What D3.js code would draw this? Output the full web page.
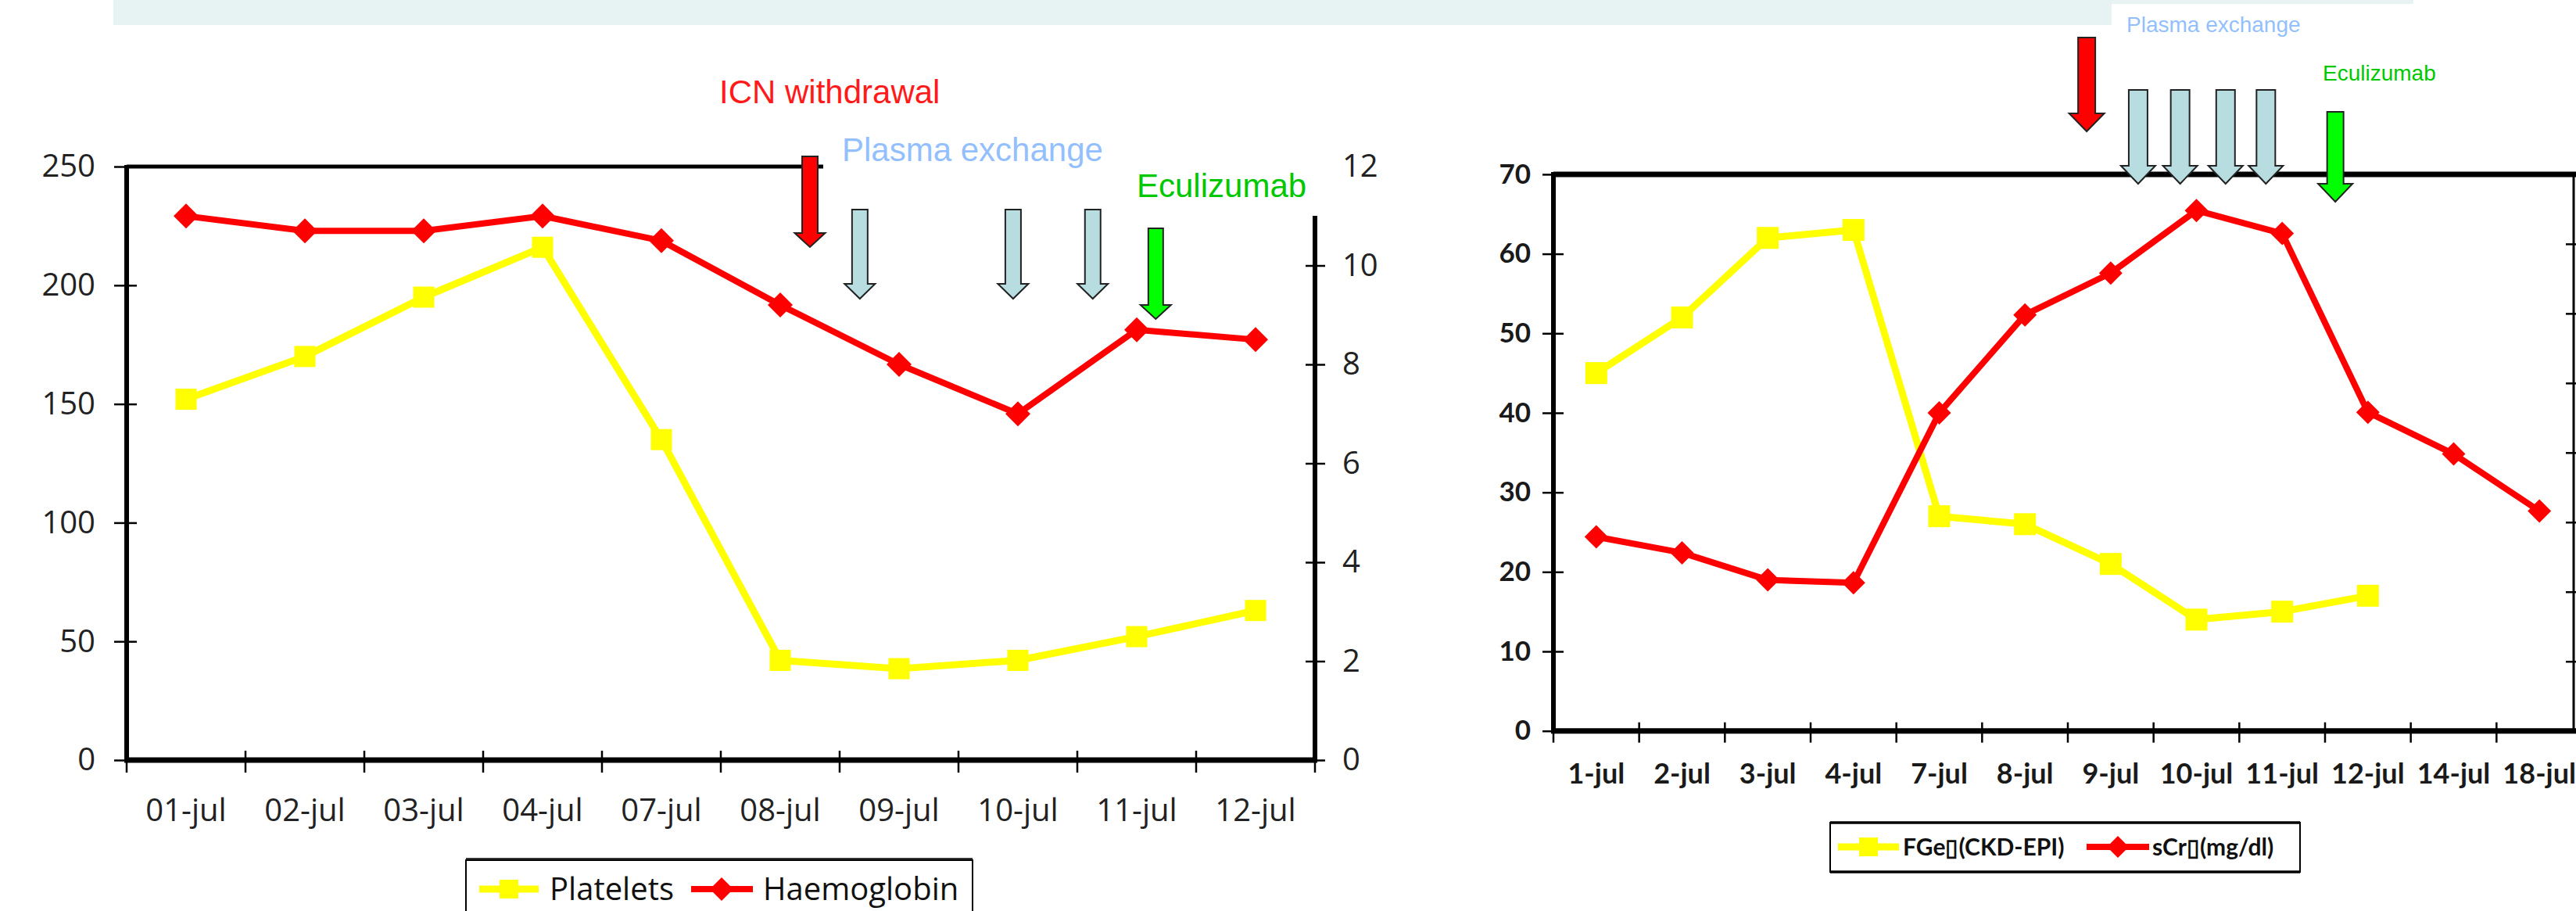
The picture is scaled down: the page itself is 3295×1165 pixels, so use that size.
<!DOCTYPE html>
<html><head><meta charset="utf-8">
<script src="https://cdnjs.cloudflare.com/ajax/libs/d3/7.8.5/d3.min.js"></script>
<style>body{margin:0;background:#fff}svg{display:block}</style>
</head><body>
<svg id="c" width="3295" height="1165"></svg>
<script>
// ---------- DATA ----------
const leftCategories = ["01-jul","02-jul","03-jul","04-jul","07-jul","08-jul","09-jul","10-jul","11-jul","12-jul"];
const platelets = [152,170,195,216,135,42,38.5,42,52,63];
const haemoglobin = [11.0,10.7,10.7,11.0,10.5,9.2,8.0,7.0,8.7,8.5];
const leftTicks = [0,50,100,150,200,250];
const leftRightTicks = [0,2,4,6,8,10,12];

const rightCategories = ["1-jul","2-jul","3-jul","4-jul","7-jul","8-jul","9-jul","10-jul","11-jul","12-jul","14-jul","18-jul"];
const egfr = [45,52,62,63,27,26,21,14,15,17,null,null];
const scr = [2.79,2.56,2.17,2.13,4.57,5.98,6.58,7.48,7.15,4.58,3.98,3.16];
const rightTicks = [0,10,20,30,40,50,60,70];
const rightSecondaryTicks = [0,1,2,3,4,5,6,7,8];

const leftLegend = ["Platelets","Haemoglobin"];
const rightLegend = ["FGe\u25AF(CKD-EPI)","sCr\u25AF(mg/dl)"];

// ---------- HELPERS ----------
const svg = d3.select("#c");
const YEL = "#ffff00", RED = "#ff0000";
function arrow(g, cx, top, headY, tip, shaft, head, fill){
  const s = shaft/2, h = head/2;
  const p = d3.path();
  p.moveTo(cx-s, top); p.lineTo(cx+s, top); p.lineTo(cx+s, headY); p.lineTo(cx+h, headY);
  p.lineTo(cx, tip); p.lineTo(cx-h, headY); p.lineTo(cx-s, headY); p.closePath();
  g.append("path").attr("d", p.toString()).attr("fill", fill).attr("stroke", "#222").attr("stroke-width", 2).attr("stroke-linejoin","miter");
}
function diamond(g, x, y, w, fill){
  g.append("path").attr("d", d3.symbol(d3.symbolSquare, (w/Math.SQRT2)*(w/Math.SQRT2))())
   .attr("transform", `translate(${x},${y}) rotate(45)`).attr("fill", fill);
}
function square(g, x, y, w, fill){
  g.append("rect").attr("x", x-w/2).attr("y", y-w/2).attr("width", w).attr("height", w).attr("fill", fill);
}

// ---------- BANNER ----------
svg.append("rect").attr("x",145).attr("y",0).attr("width",3087-145).attr("height",32).attr("fill","#e7f3f3");
svg.append("rect").attr("x",2701).attr("y",5).attr("width",420).attr("height",60).attr("fill","#fff");

// ---------- LEFT CHART ----------
(function(){
  const x0=162, x1=1682, yb=972, yt=213;
  const x = d3.scaleBand().domain(leftCategories).range([x0,x1]);
  const y = d3.scaleLinear().domain([0,250]).range([yb,yt]);
  const y2 = d3.scaleLinear().domain([0,12]).range([yb,yt]);
  const g = svg.append("g");
  const font = "Open Sans";

  g.append("line").attr("x1",x0).attr("x2",x1).attr("y1",yt).attr("y2",yt).attr("stroke","#000").attr("stroke-width",5);
  g.append("line").attr("x1",x1).attr("x2",x1).attr("y1",yt).attr("y2",yb).attr("stroke","#000").attr("stroke-width",6);

  const ax = g.append("g").attr("transform",`translate(${x0},0)`)
    .call(d3.axisLeft(y).tickValues(leftTicks).tickSize(15).tickPadding(25));
  ax.select(".domain").remove();
  ax.selectAll(".tick line").attr("x1",13).attr("x2",-16).attr("stroke","#000").attr("stroke-width",2.5);
  ax.selectAll("text").attr("font-family",font).attr("font-size",40).attr("fill","#222");
  g.append("line").attr("x1",x0).attr("x2",x0).attr("y1",yt-2).attr("y2",yb+3).attr("stroke","#000").attr("stroke-width",6);

  const ax2 = g.append("g").attr("transform",`translate(${x1},0)`)
    .call(d3.axisRight(y2).tickValues(leftRightTicks).tickSize(13).tickPadding(22).tickFormat(""));
  ax2.select(".domain").remove();
  ax2.selectAll(".tick line").attr("x1",-12).attr("x2",13).attr("stroke","#000").attr("stroke-width",2.5);

  const bx = g.append("g").attr("transform",`translate(0,${yb})`)
    .call(d3.axisBottom(x).tickSize(0).tickPadding(50));
  bx.select(".domain").remove();
  bx.selectAll("text").attr("font-family",font).attr("font-size",40).attr("fill","#222");
  const bounds = leftCategories.map(c=>x(c)).concat([x.range()[1]]);
  g.selectAll(null).data(bounds).enter().append("line")
    .attr("x1",d=>d).attr("x2",d=>d).attr("y1",yb-12).attr("y2",yb+16).attr("stroke","#000").attr("stroke-width",2.5);
  g.append("line").attr("x1",x0-3).attr("x2",x1+3).attr("y1",yb).attr("y2",yb).attr("stroke","#000").attr("stroke-width",7);

  g.append("rect").attr("x",1053).attr("y",150).attr("width",660).attr("height",126).attr("fill","#fff");

  const ax2l = g.append("g").attr("transform",`translate(${x1},0)`)
    .call(d3.axisRight(y2).tickValues(leftRightTicks).tickSize(13).tickPadding(22));
  ax2l.select(".domain").remove(); ax2l.selectAll(".tick line").remove();
  ax2l.selectAll("text").attr("font-family",font).attr("font-size",40).attr("fill","#222");

  const cx = c => x(c)+x.bandwidth()/2;
  g.append("path").datum(platelets).attr("fill","none").attr("stroke",YEL).attr("stroke-width",9).attr("stroke-linejoin","round")
    .attr("d", d3.line().x((d,i)=>cx(leftCategories[i])).y(d=>y(d)));
  platelets.forEach((d,i)=>square(g, cx(leftCategories[i]), y(d), 27, YEL));
  g.append("path").datum(haemoglobin).attr("fill","none").attr("stroke",RED).attr("stroke-width",8).attr("stroke-linejoin","round")
    .attr("d", d3.line().x((d,i)=>cx(leftCategories[i])).y(d=>y2(d)));
  haemoglobin.forEach((d,i)=>diamond(g, cx(leftCategories[i]), y2(d), 32, RED));

  const bw = x.bandwidth();
  arrow(g, x("08-jul")+0.75*bw, 200, 298, 316, 20, 39, RED);
  [["08-jul",1.17],["10-jul",0.46],["11-jul",0.13]].forEach(([c,f])=>arrow(g, x(c)+f*bw, 268, 363, 382, 20, 39, "#b7dde0"));
  arrow(g, x("11-jul")+0.66*bw, 292, 390, 408, 19, 39, "#00ff00");
  g.append("text").attr("x",920).attr("y",132).text("ICN withdrawal").attr("font-family","Liberation Sans").attr("font-size",42).attr("fill","#ff1a1a");
  g.append("text").attr("x",1077).attr("y",206).text("Plasma exchange").attr("font-family","Liberation Sans").attr("font-size",42).attr("fill","#93bfff");
  g.append("text").attr("x",1454).attr("y",252).text("Eculizumab").attr("font-family","Liberation Sans").attr("font-size",42).attr("fill","#00c800");

  const lg = g.append("g");
  lg.append("rect").attr("x",596).attr("y",1100).attr("width",648).attr("height",90).attr("fill","#fff").attr("stroke","#000").attr("stroke-width",2);
  lg.append("line").attr("x1",596).attr("x2",1244).attr("y1",1098).attr("y2",1098).attr("stroke","#333").attr("stroke-width",2);
  const ly = 1137;
  lg.append("line").attr("x1",613).attr("x2",689).attr("y1",ly).attr("y2",ly).attr("stroke",YEL).attr("stroke-width",9);
  square(lg, 651, ly, 24, YEL);
  lg.append("text").attr("x",703).attr("y",ly+14).text(leftLegend[0]).attr("font-family",font).attr("font-size",40).attr("fill","#111");
  lg.append("line").attr("x1",884).attr("x2",963).attr("y1",ly).attr("y2",ly).attr("stroke",RED).attr("stroke-width",8);
  diamond(lg, 923, ly, 30, RED);
  lg.append("text").attr("x",976).attr("y",ly+14).text(leftLegend[1]).attr("font-family",font).attr("font-size",40).attr("fill","#111");
})();

// ---------- RIGHT CHART ----------
(function(){
  const x0=1987, x1=3303, yb=934.7, yt=222.9, xr=3292;
  const x = d3.scaleBand().domain(rightCategories).range([x0,x1]);
  const y = d3.scaleLinear().domain([0,70]).range([yb,yt]);
  const y2 = d3.scaleLinear().domain([0,8]).range([yb,yt]);
  const g = svg.append("g");
  const font = "Lato";

  g.append("line").attr("x1",x0).attr("x2",3295).attr("y1",yt).attr("y2",yt).attr("stroke","#000").attr("stroke-width",7);
  g.append("line").attr("x1",xr).attr("x2",xr).attr("y1",yt).attr("y2",yb).attr("stroke","#000").attr("stroke-width",3);

  const ax = g.append("g").attr("transform",`translate(${x0},0)`)
    .call(d3.axisLeft(y).tickValues(rightTicks).tickSize(14).tickPadding(15));
  ax.select(".domain").remove();
  ax.selectAll(".tick line").attr("x1",13).attr("x2",-14).attr("stroke","#000").attr("stroke-width",2.5);
  ax.selectAll("text").attr("font-family",font).attr("font-weight",700).attr("font-size",35).attr("fill","#1a1a1a");
  g.append("line").attr("x1",x0).attr("x2",x0).attr("y1",yt-3).attr("y2",yb+3).attr("stroke","#000").attr("stroke-width",6);

  const ax2 = g.append("g").attr("transform",`translate(${xr},0)`)
    .call(d3.axisRight(y2).tickValues(rightSecondaryTicks).tickSize(0).tickFormat(""));
  ax2.select(".domain").remove();
  ax2.selectAll(".tick line").attr("x1",-10).attr("x2",3).attr("stroke","#000").attr("stroke-width",2.5);

  const bx = g.append("g").attr("transform",`translate(0,${yb})`)
    .call(d3.axisBottom(x).tickSize(0).tickPadding(42));
  bx.select(".domain").remove();
  bx.selectAll("text").attr("font-family",font).attr("font-weight",700).attr("font-size",36).attr("fill","#1a1a1a");
  const bounds = rightCategories.map(c=>x(c));
  g.selectAll(null).data(bounds).enter().append("line")
    .attr("x1",d=>d).attr("x2",d=>d).attr("y1",yb-11).attr("y2",yb+15).attr("stroke","#000").attr("stroke-width",2.5);
  g.append("line").attr("x1",x0-3).attr("x2",3295).attr("y1",yb).attr("y2",yb).attr("stroke","#000").attr("stroke-width",7);

  const cx = c => x(c)+x.bandwidth()/2;
  g.append("path").datum(egfr).attr("fill","none").attr("stroke",YEL).attr("stroke-width",9).attr("stroke-linejoin","round")
    .attr("d", d3.line().defined(d=>d!=null).x((d,i)=>cx(rightCategories[i])).y(d=>y(d)));
  egfr.forEach((d,i)=>{ if(d!=null) square(g, cx(rightCategories[i]), y(d), 28, YEL); });
  g.append("path").datum(scr).attr("fill","none").attr("stroke",RED).attr("stroke-width",8).attr("stroke-linejoin","round")
    .attr("d", d3.line().x((d,i)=>cx(rightCategories[i])).y(d=>y2(d)));
  scr.forEach((d,i)=>diamond(g, cx(rightCategories[i]), y2(d), 30, RED));

  const bw = x.bandwidth();
  arrow(g, x("9-jul")+0.22*bw, 48, 145, 168, 22, 45, RED);
  [["9-jul",0.82],["10-jul",0.31],["10-jul",0.84],["11-jul",0.31]].forEach(([c,f])=>arrow(g, x(c)+f*bw, 115, 212, 235, 24, 44, "#b7dde0"));
  arrow(g, x("12-jul")+0.12*bw, 143, 235, 258, 21, 44, "#00ff00");
  g.append("text").attr("x",2720).attr("y",41).text("Plasma exchange").attr("font-family","Liberation Sans").attr("font-size",28).attr("fill","#93bfff");
  g.append("text").attr("x",2971).attr("y",103).text("Eculizumab").attr("font-family","Liberation Sans").attr("font-size",28).attr("fill","#00c800");

  const lg = g.append("g");
  lg.append("rect").attr("x",2341).attr("y",1052).attr("width",601).attr("height",63).attr("fill","#fff").attr("stroke","#000").attr("stroke-width",2);
  lg.append("line").attr("x1",2341).attr("x2",2942).attr("y1",1052).attr("y2",1052).attr("stroke","#000").attr("stroke-width",3.5);
  lg.append("line").attr("x1",2341).attr("x2",2942).attr("y1",1115).attr("y2",1115).attr("stroke","#000").attr("stroke-width",3.5);
  const ly = 1083;
  lg.append("line").attr("x1",2351).attr("x2",2429).attr("y1",ly).attr("y2",ly).attr("stroke",YEL).attr("stroke-width",9);
  square(lg, 2390, ly, 24, YEL);
  lg.append("text").attr("x",2434).attr("y",ly+11).text(rightLegend[0]).attr("font-family",font).attr("font-weight",700).attr("font-size",30).attr("fill","#111");
  lg.append("line").attr("x1",2669).attr("x2",2749).attr("y1",ly).attr("y2",ly).attr("stroke",RED).attr("stroke-width",8);
  diamond(lg, 2709, ly, 28, RED);
  lg.append("text").attr("x",2753).attr("y",ly+11).text(rightLegend[1]).attr("font-family",font).attr("font-weight",700).attr("font-size",30).attr("fill","#111");
})();
</script>
</body></html>
